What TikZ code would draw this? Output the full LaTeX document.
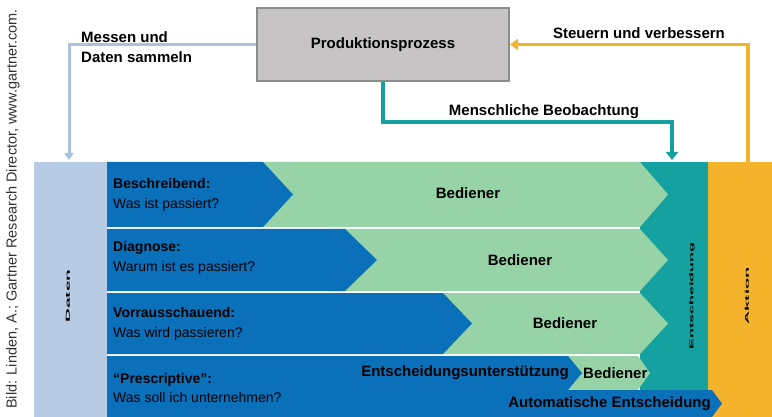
\documentclass[tikz,border=0pt]{standalone}
\usepackage{fontspec}
\setmainfont{Liberation Sans}
\usetikzlibrary{arrows.meta}

\definecolor{hellblau}{HTML}{B7CBE5}
\definecolor{dunkelblau}{HTML}{0B70BA}
\definecolor{hellgruen}{HTML}{96D3A7}
\definecolor{petrol}{HTML}{14A19F}
\definecolor{gelb}{HTML}{F3B42C}
\definecolor{kasten}{HTML}{C6C4C4}
\definecolor{pfeilblau}{HTML}{A8C2E0}

\begin{document}
\begin{tikzpicture}[x=1pt,y=-1pt,
  gross/.style={font=\fontsize{15}{20}\selectfont\bfseries},
  zeile/.style={font=\fontsize{14}{19.5}\selectfont, align=left, anchor=west, inner sep=0pt},
  marke/.style={rotate=90, inner sep=0pt}]
\useasboundingbox (0,0) rectangle (772,417);

% Bildnachweis
\node[rotate=90, text=black!80, font=\fontsize{14.5}{16}\selectfont] (quelle) at (13,209)
  {Bild: Linden, A.; Gartner Research Director, www.gartner.com.};

% Prozess oben
\node[draw=black!45, line width=2pt, fill=kasten, minimum width=252pt, minimum height=73pt, gross] (prozess)
  at (383,44.5) {Produktionsprozess};

% Saeulen unten
\fill[hellblau] (34,162) rectangle (107,417);
\fill[petrol] (640,162) rectangle (708,390);
\fill[gelb] (708,162) rectangle (772,417);

% Zeile 1
\fill[hellgruen] (250,162) -- (640,162) -- (668,194.5) -- (640,227) -- (250,227) -- cycle;
\fill[dunkelblau] (107,162) -- (263,162) -- (293,194.5) -- (263,227) -- (107,227) -- cycle;
% Zeile 2
\fill[hellgruen] (330,229) -- (640,229) -- (668,260) -- (640,291) -- (330,291) -- cycle;
\fill[dunkelblau] (107,229) -- (345,229) -- (377,260) -- (345,291) -- (107,291) -- cycle;
% Zeile 3
\fill[hellgruen] (430,293) -- (640,293) -- (668,323.5) -- (640,354) -- (430,354) -- cycle;
\fill[dunkelblau] (107,293) -- (443,293) -- (472,323.5) -- (443,354) -- (107,354) -- cycle;
% Zeile 4
\fill[hellgruen] (560,356) -- (638,356) -- (650,373) -- (638,390) -- (560,390) -- cycle;
\fill[dunkelblau] (107,356) -- (568,356) -- (582,373) -- (568,390) -- (712,390)
  -- (722,403.5) -- (712,417) -- (107,417) -- cycle;

% Pfeile
\coordinate (daten) at (69,160);
\coordinate (beob) at (672,160);
\coordinate (steuer) at (748,162);
\draw[pfeilblau, line width=3pt, -{Triangle[width=9pt,length=7pt]}] (prozess.west) -| (daten);
\draw[petrol, line width=4pt, -{Triangle[width=12pt,length=8pt]}] (prozess.south) -- ++(0,40) -| (beob);
\draw[gelb, line width=3.5pt, -{Triangle[width=11pt,length=8pt]}] (steuer) |- (prozess.east);

\node[gross, align=left, anchor=west, inner sep=0pt] (messen) at (81,47) {Messen und\\Daten sammeln};
\node[gross] (mensch) at (544,112) {Menschliche Beobachtung};
\node[gross] (verbessern) at (639,33) {Steuern und verbessern};

% Beschriftung der Zeilen
\node[zeile] (beschr) at (113,195) {\textbf{Beschreibend:}\\Was ist passiert?};
\node[zeile] (diag) at (113,258) {\textbf{Diagnose:}\\Warum ist es passiert?};
\node[zeile] (vorr) at (113,324) {\textbf{Vorrausschauend:}\\Was wird passieren?};
\node[zeile] (presc) at (113,388) {\textbf{“Prescriptive”:}\\Was soll ich unternehmen?};

\node[gross] (bed1) at (468,193) {Bediener};
\node[gross] (bed2) at (520,260) {Bediener};
\node[gross] (bed3) at (565,323) {Bediener};
\node[gross, anchor=west, inner sep=0pt] (bed4) at (583,373) {Bediener};
\node[gross, anchor=east, inner sep=0pt] (unterst) at (569,373) {Entscheidungsunterstützung};
\node[gross, anchor=east, inner sep=0pt] (auto) at (711,404) {Automatische Entscheidung};

% kleine senkrechte Schrift
\node[marke] (daten-t) at (68,296) {\resizebox{53pt}{4pt}{\bfseries Daten}};
\node[marke] (entsch-t) at (692,296) {\resizebox{107pt}{4pt}{\bfseries Entscheidung}};
\node[marke] (aktion-t) at (747,296) {\resizebox{57pt}{4pt}{\bfseries Aktion}};
\end{tikzpicture}
\end{document}
